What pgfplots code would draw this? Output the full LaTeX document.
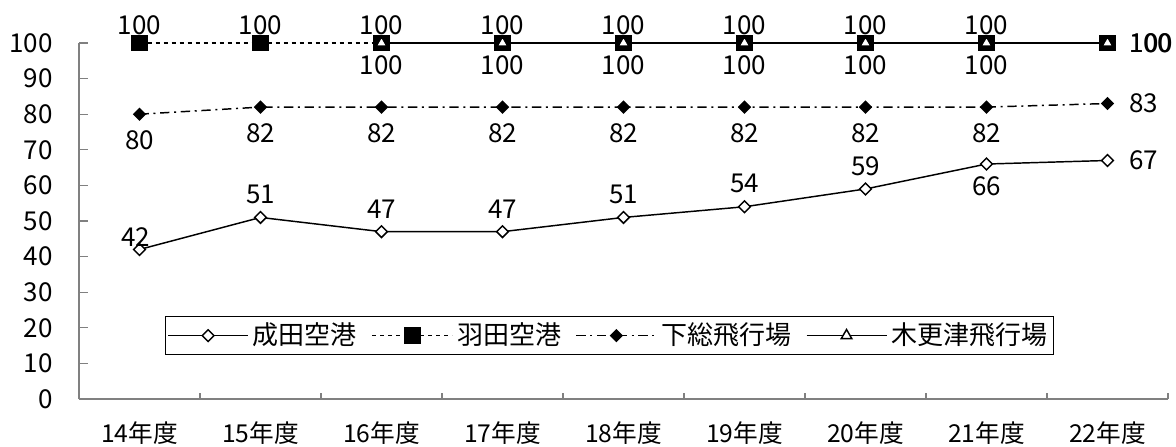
\documentclass[border=0pt]{standalone}
\usepackage{fontspec}
\setmainfont{Noto Sans CJK JP}
\usepackage{pgfplots}
\pgfplotsset{compat=1.18}

\begin{document}
\fontsize{19.5pt}{22pt}\selectfont
\begin{tikzpicture}
\path[use as bounding box] (0,0) rectangle (882pt,334.5pt);
\begin{axis}[
    at={(59.25pt,35.25pt)}, anchor=south west,
    scale only axis, width=816.75pt, height=267pt,
    xmin=-0.5, xmax=8.5, ymin=0, ymax=100,
    clip=false,
    axis x line*=bottom, axis y line*=left,
    axis line style={draw=gray, line width=0.9pt, -},
    tick align=inside,
    xtick={0,...,8},
    xticklabels={14年度,15年度,16年度,17年度,18年度,19年度,20年度,21年度,22年度},
    major x tick style={draw=none},
    minor xtick={0.5,1.5,...,8.5},
    minor tick length=4.5pt,
    major tick length=6.75pt,
    tick style={draw=gray, line width=0.9pt},
    ytick={0,10,...,100},
    yticklabel style={xshift=-13pt},
    xticklabel style={yshift=-10pt, font=\fontsize{18.5pt}{21pt}\selectfont},
    /pgf/number format/assume math mode=true,
    legend columns=4,
    legend style={at={(0.487,0.178)}, anchor=center, draw=black, line width=0.6pt,
        inner sep=1.5pt, nodes={inner sep=3pt},
        /tikz/every even column/.append style={column sep=8pt}},
    legend image code/.code={\draw[mark repeat=2,mark phase=2,#1] plot coordinates {(0pt,0pt) (30pt,0pt) (60pt,0pt)};},
]

% 成田空港
\addplot[black, line width=1.1pt, mark=square*, mark size=3.1pt,
    mark options={rotate=45, fill=white, solid}]
    coordinates {(0,42) (1,51) (2,47) (3,47) (4,51) (5,54) (6,59) (7,66) (8,67)};
\addlegendentry{成田空港}

% 羽田空港
\addplot[black, line width=1.1pt, dash pattern=on 3pt off 3pt, mark=square*, mark size=5.8pt,
    mark options={solid, fill=black}]
    coordinates {(0,100) (1,100) (2,100) (3,100) (4,100) (5,100) (6,100) (7,100) (8,100)};
\addlegendentry{羽田空港}

% 下総飛行場
\addplot[black, line width=1.1pt, dash pattern=on 7pt off 3.5pt on 1.5pt off 3.5pt, mark=square*, mark size=3pt,
    mark options={rotate=45, fill=black, solid}]
    coordinates {(0,80) (1,82) (2,82) (3,82) (4,82) (5,82) (6,82) (7,82) (8,83)};
\addlegendentry{下総飛行場}

% 木更津飛行場
\addplot[black, line width=1.1pt, mark=triangle*, mark size=4.6pt,
    mark options={fill=white, solid}]
    coordinates {(2,100) (3,100) (4,100) (5,100) (6,100) (7,100) (8,100)};
\addlegendentry{木更津飛行場}

% data labels
\pgfplotsset{lbl/.style={draw=none, mark=none, forget plot, nodes near coords,
    every node near coord/.append style={inner sep=0pt, font=\fontsize{19.5pt}{22pt}\selectfont, #1}}}

\addplot[lbl={anchor=south, yshift=6pt}]
    coordinates {(0,100) (1,100) (2,100) (3,100) (4,100) (5,100) (6,100) (7,100)};
\addplot[lbl={anchor=north, yshift=-9pt}]
    coordinates {(2,100) (3,100) (4,100) (5,100) (6,100) (7,100)};
\addplot[lbl={anchor=west, xshift=16pt}]
    coordinates {(8,100)};
\addplot[lbl={anchor=west, xshift=16.4pt}]
    coordinates {(8,100)};

\addplot[lbl={anchor=north, yshift=-12pt}]
    coordinates {(0,80) (1,82) (2,82) (3,82) (4,82) (5,82) (6,82) (7,82)};
\addplot[lbl={anchor=west, xshift=16pt}]
    coordinates {(8,83)};

\addplot[lbl={anchor=south, yshift=10pt}]
    coordinates {(1,51) (2,47) (3,47) (4,51) (5,54) (6,59)};
\addplot[lbl={anchor=south, yshift=2pt, xshift=-3pt}]
    coordinates {(0,42)};
\addplot[lbl={anchor=north, yshift=-9pt}]
    coordinates {(7,66)};
\addplot[lbl={anchor=west, xshift=16pt}]
    coordinates {(8,67)};

\end{axis}
\end{tikzpicture}
\end{document}
